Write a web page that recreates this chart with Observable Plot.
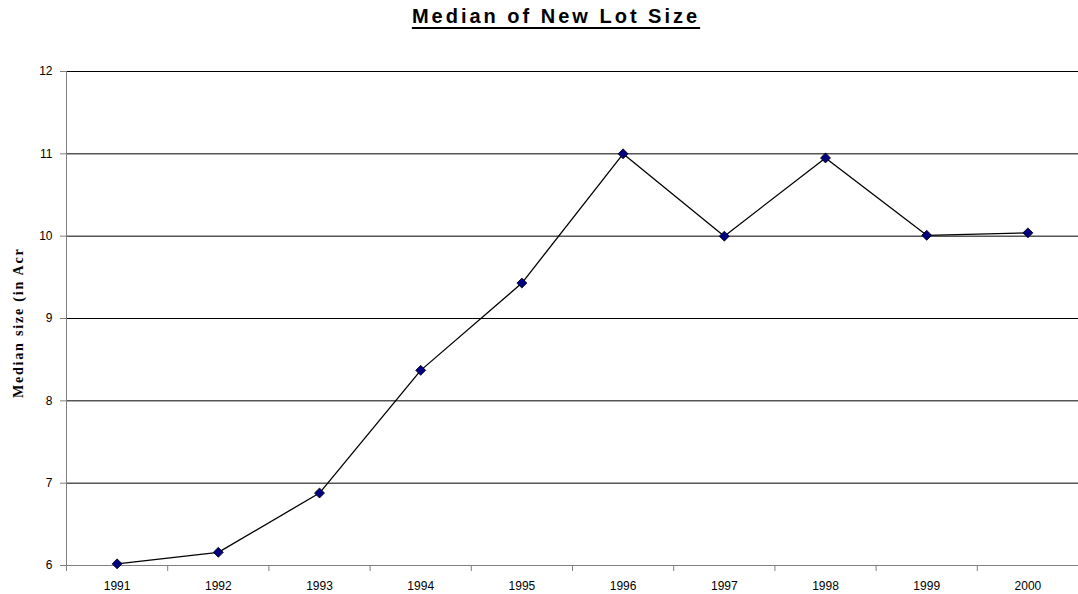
<!DOCTYPE html>
<html>
<head>
<meta charset="utf-8">
<script src="https://cdn.jsdelivr.net/npm/d3@7"></script>
<script src="https://cdn.jsdelivr.net/npm/@observablehq/plot@0.6"></script>
<style>
  html, body { margin: 0; padding: 0; background: #fff; }
  #wrap { position: relative; width: 1078px; height: 594px; overflow: hidden; }
  #title {
    position: absolute; left: 0; top: 5px; width: 1112px; text-align: center;
    font-family: "Liberation Sans", Arial, sans-serif; font-weight: bold; font-size: 20px;
    letter-spacing: 3px; text-decoration: underline; text-decoration-thickness: 2px;
    text-underline-offset: 4px; color: #000;
  }
  svg { display: block; }
</style>
</head>
<body>
<div id="wrap">
  <div id="title">Median of New Lot Size</div>
  <div id="chart"></div>
</div>
<script>
const titleText = "Median of New Lot Size";
const yLabelText = "Median size (in Acr";
const years = [1991, 1992, 1993, 1994, 1995, 1996, 1997, 1998, 1999, 2000];
const medians = [6.02, 6.16, 6.88, 8.37, 9.43, 11.0, 10.0, 10.95, 10.01, 10.04];
const yTicks = [6, 7, 8, 9, 10, 11, 12];

const data = years.map((year, i) => ({year, median: medians[i]}));
const bounds = [years[0] - 0.5, ...years.map(y => y + 0.5)];

const chart = Plot.plot({
  width: 1078,
  height: 594,
  marginLeft: 66,
  marginRight: 0,
  marginTop: 71,
  marginBottom: 29,
  style: {fontFamily: "'Liberation Sans', Arial, sans-serif", fontSize: "12px", color: "#000", background: "#fff"},
  x: {domain: [bounds[0], bounds[bounds.length - 1]]},
  y: {domain: [6, 12]},
  marks: [
    Plot.ruleY(yTicks.slice(1), {stroke: "#000", strokeWidth: 1}),
    Plot.ruleY([6], {stroke: "#808080", strokeWidth: 1}),
    Plot.ruleX([bounds[0]], {stroke: "#808080", strokeWidth: 1}),
    Plot.axisY({ticks: yTicks, tickSize: 6, tickPadding: 8, stroke: "#808080", label: null, fontSize: 12, tickFormat: d => String(d)}),
    Plot.axisX({ticks: bounds, tickSize: 6, stroke: "#808080", tickFormat: () => "", label: null}),
    Plot.axisX({ticks: years, tickSize: 0, tickPadding: 16, label: null, fontSize: 12, tickFormat: d => String(d)}),
    Plot.line(data, {x: "year", y: "median", stroke: "#000", strokeWidth: 1.3}),
    Plot.dot(data, {x: "year", y: "median", symbol: "diamond2", r: 4.5, fill: "#000080", stroke: "#000", strokeWidth: 0.8})
  ]
});

document.getElementById("chart").appendChild(chart);
document.getElementById("title").textContent = titleText;

d3.select(chart).append("text")
  .attr("transform", "translate(23,398) rotate(-90)")
  .attr("text-anchor", "start")
  .style("font-family", "'Liberation Serif', 'Times New Roman', serif")
  .style("font-weight", "bold")
  .style("font-size", "14px")
  .style("letter-spacing", "1.8px")
  .attr("fill", "#000")
  .text(yLabelText);
</script>
</body>
</html>
